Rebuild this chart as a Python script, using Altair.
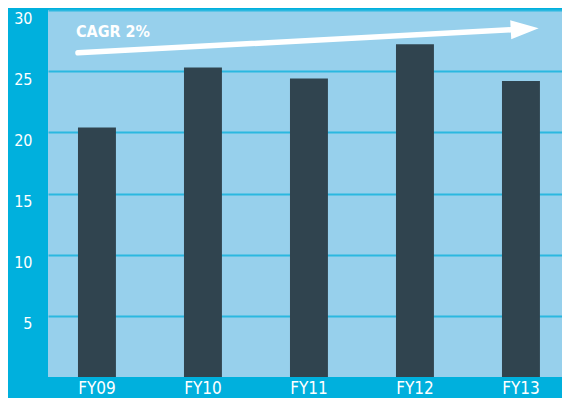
import altair as alt
import pandas as pd

categories = ["FY09", "FY10", "FY11", "FY12", "FY13"]
values = [20.4, 25.3, 24.4, 27.2, 24.2]
y_ticks = [5, 10, 15, 20, 25, 30]

arrow_from = ["FY09"]
arrow_to = ["FY13"]
arrow_y_start = [26.5]
arrow_y_end = [28.38]
cagr_text = ["CAGR 2%"]
cagr_y = [27.8]

FONT = "DejaVu Sans Condensed, sans-serif"
OUTER = "#00B0DD"
PLOT = "#97D0EC"
BAR = "#30444F"
GRID = "#2BB8E0"

bars_df = pd.DataFrame({"cat": categories, "value": values})
arrow_df = pd.DataFrame({"x0": arrow_from, "x1": arrow_to,
                         "y0": arrow_y_start, "y1": arrow_y_end})
head_df = pd.DataFrame({"x1": arrow_to, "y1": arrow_y_end})
text_df = pd.DataFrame({"x0": arrow_from, "t": cagr_text, "y": cagr_y})

xscale = alt.Scale(domain=categories, paddingInner=0.642, paddingOuter=0.2455, align=0.576)
yscale = alt.Scale(domain=[0, 30], nice=False, zero=True)

x_axis = alt.Axis(title=None, labelAngle=0, labelColor="white", labelFont=FONT,
                  labelFontSize=17, labelPadding=3, ticks=False, domain=False,
                  grid=False, labelBaseline="top")
y_axis = alt.Axis(title=None, values=y_ticks, labelColor="white", labelFont=FONT,
                  labelFontSize=16, labelPadding=16, ticks=False, domain=False,
                  grid=True, gridColor=GRID, gridWidth=1.8, labelBaseline="top",
                  labelFlush=False, labelAlign="right")

bars = alt.Chart(bars_df).mark_bar(color=BAR).encode(
    x=alt.X("cat:N", scale=xscale, sort=categories, axis=x_axis, title=None),
    y=alt.Y("value:Q", scale=yscale, axis=y_axis, title=None),
)

arrow = alt.Chart(arrow_df).mark_rule(color="white", strokeWidth=5.5, strokeCap="round").encode(
    x=alt.X("x0:N", scale=xscale, bandPosition=0, axis=x_axis, title=None),
    x2=alt.X2("x1:N", bandPosition=0.23),
    y=alt.Y("y0:Q", scale=yscale, axis=y_axis, title=None),
    y2=alt.Y2("y1:Q"),
)

head = alt.Chart(head_df).mark_point(
    shape="M0,-0.68 L2,0 L0,0.68 Z", size=784, filled=True, fill="white",
    strokeWidth=0, opacity=1, angle=356.9,
).encode(
    x=alt.X("x1:N", scale=xscale, bandPosition=0.23, axis=x_axis, title=None),
    y=alt.Y("y1:Q", scale=yscale, axis=y_axis, title=None),
)

label = alt.Chart(text_df).mark_text(
    color="white", font=FONT, fontSize=16, fontWeight="bold", align="left",
    baseline="alphabetic", dx=-2,
).encode(
    x=alt.X("x0:N", scale=xscale, bandPosition=0, axis=x_axis, title=None),
    y=alt.Y("y:Q", scale=yscale, axis=y_axis, title=None),
    text="t:N",
)

chart = alt.layer(bars, arrow, head, label).properties(
    width=514, height=367,
    autosize=alt.AutoSizeParams(type="none"),
    padding={"left": 40, "top": 2, "right": 0, "bottom": 21},
    background=OUTER,
).configure_view(fill=PLOT, stroke=None)

chart.save("out.html", embed_options={"renderer": "svg", "actions": False})
